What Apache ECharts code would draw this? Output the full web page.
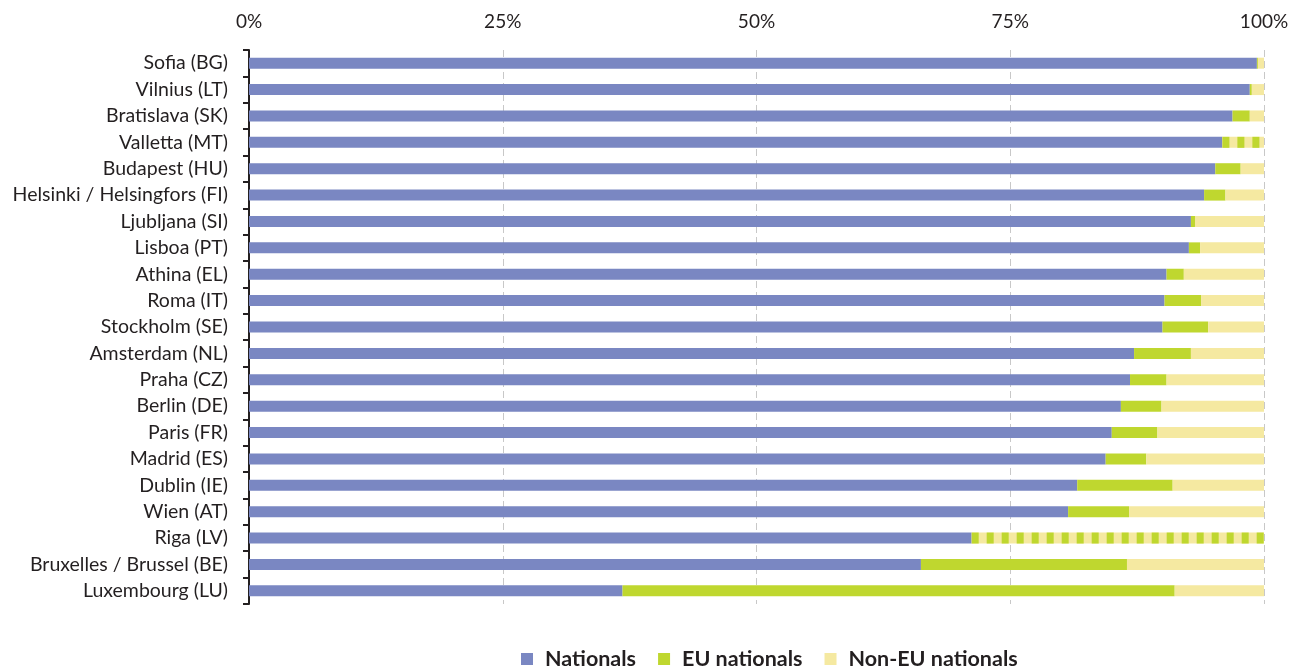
<!DOCTYPE html>
<html>
<head>
<meta charset="utf-8">
<script src="https://cdn.jsdelivr.net/npm/echarts@6/dist/echarts.min.js"></script>
<style>html,body{margin:0;padding:0;background:#fff;}#c{width:1298px;height:668px;}</style>
</head>
<body>
<div id="c"></div>
<script>
var cities = ['Sofia (BG)','Vilnius (LT)','Bratislava (SK)','Valletta (MT)','Budapest (HU)','Helsinki / Helsingfors (FI)','Ljubljana (SI)','Lisboa (PT)','Athina (EL)','Roma (IT)','Stockholm (SE)','Amsterdam (NL)','Praha (CZ)','Berlin (DE)','Paris (FR)','Madrid (ES)','Dublin (IE)','Wien (AT)','Riga (LV)','Bruxelles / Brussel (BE)','Luxembourg (LU)'];
var nationals   = [99.3, 98.6, 96.9, 95.9, 95.2, 94.1, 92.8, 92.6, 90.4, 90.2, 90.0, 87.2, 86.8, 85.9, 85.0, 84.4, 81.6, 80.7, 71.2, 66.2, 36.8];
var euNationals = [0.1, 0.2, 1.7, '-', 2.5, 2.1, 0.4, 1.1, 1.7, 3.6, 4.5, 5.6, 3.6, 4.0, 4.5, 4.0, 9.4, 6.0, '-', 20.3, 54.4];
var nonEU       = [0.6, 1.2, 1.4, '-', 2.3, 3.8, 6.8, 6.3, 7.9, 6.2, 5.5, 7.2, 9.6, 10.1, 10.5, 11.6, 9.0, 13.3, '-', 13.5, 8.8];
var foreignUnsplit = ['-', '-', '-', 4.1, '-', '-', '-', '-', '-', '-', '-', '-', '-', '-', '-', '-', '-', '-', 28.8, '-', '-'];
var xTicks = [0, 25, 50, 75, 100];

var BLUE = '#7a87c2', GREEN = '#bfd72f', YELLOW = '#f5e9a1';
var FONT = 'Lato';
var BAR_H = 11;

// rows where EU / non-EU split is not available: [start, end, categoryIndex]
var unsplitData = [];
for (var i = 0; i < cities.length; i++) {
  if (foreignUnsplit[i] !== '-') unsplitData.push([nationals[i], nationals[i] + foreignUnsplit[i], i]);
}

function renderStriped(params, api) {
  var p0 = api.coord([api.value(0), api.value(2)]);
  var p1 = api.coord([Math.min(api.value(1), 100), api.value(2)]);
  var x0 = p0[0], x1 = p1[0], y = p0[1] - BAR_H / 2;
  var children = [{type: 'rect', shape: {x: x0, y: y, width: x1 - x0, height: BAR_H}, style: {fill: YELLOW}}];
  var GW = 7, PERIOD = 15;
  for (var x = x0; x < x1; x += PERIOD) {
    children.push({type: 'rect', shape: {x: x, y: y, width: Math.min(GW, x1 - x), height: BAR_H}, style: {fill: GREEN}});
  }
  return {type: 'group', children: children};
}

var chart = echarts.init(document.getElementById('c'));
chart.setOption({
  animation: false,
  textStyle: {fontFamily: FONT},
  grid: {left: 249, right: 34, top: 50, bottom: 64},
  legend: {
    data: ['Nationals', 'EU nationals', 'Non-EU nationals'],
    top: 643, left: 516,
    icon: 'rect', itemWidth: 12, itemHeight: 12, itemGap: 22,
    textStyle: {fontFamily: FONT, fontSize: 21.5, fontWeight: 'bold', color: '#231f20', padding: [0, 0, 0, 7]}
  },
  xAxis: {
    type: 'value', position: 'top', min: xTicks[0], max: xTicks[xTicks.length - 1], interval: 25,
    axisLine: {show: false}, axisTick: {show: false},
    axisLabel: {formatter: '{value}%', fontSize: 19, color: '#231f20', margin: 19, fontFamily: FONT},
    splitLine: {show: true, lineStyle: {color: '#c8c8c8', type: [7, 4], width: 1}}
  },
  yAxis: {
    type: 'category', data: cities, inverse: true,
    axisLine: {show: true, lineStyle: {color: '#231f20', width: 2}},
    axisTick: {show: true, length: 6, lineStyle: {color: '#231f20', width: 2}},
    axisLabel: {fontSize: 19.5, color: '#231f20', margin: 21, fontFamily: FONT}
  },
  series: [
    {name: 'Nationals', type: 'bar', stack: 's', barWidth: BAR_H, data: nationals, itemStyle: {color: BLUE}},
    {name: 'EU nationals', type: 'bar', stack: 's', barWidth: BAR_H, data: euNationals, itemStyle: {color: GREEN}},
    {name: 'Non-EU nationals', type: 'bar', stack: 's', barWidth: BAR_H, data: nonEU, itemStyle: {color: YELLOW}},
    {name: 'EU / non-EU', type: 'custom', renderItem: renderStriped, data: unsplitData,
      encode: {x: [0, 1], y: 2}, z: 3}
  ]
});
</script>
</body>
</html>
